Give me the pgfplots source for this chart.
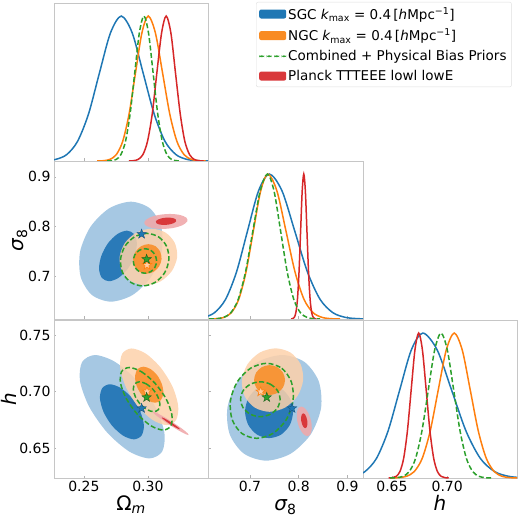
\documentclass[border=0pt]{standalone}
\usepackage{fontspec}
\setmainfont{DejaVu Sans}
\usepackage{pgfplots}
\pgfplotsset{compat=1.18}
\definecolor{cblue}{HTML}{1F77B4}
\definecolor{cblueL}{HTML}{A6C8E3}
\definecolor{cblueD}{HTML}{2A7AB8}
\definecolor{corange}{HTML}{FF7F0E}
\definecolor{corangeL}{HTML}{FDD1AA}
\definecolor{corangeD}{HTML}{F98B22}
\definecolor{cgreen}{HTML}{2CA02C}
\definecolor{cred}{HTML}{D62728}
\definecolor{credL}{HTML}{EFA9AB}
\definecolor{credD}{HTML}{D9383B}
\pgfdeclareplotmark{fstar}{%
  \pgfpathmoveto{\pgfpoint{0pt}{\pgfplotmarksize}}%
  \pgfpathlineto{\pgfpoint{-0.235\pgfplotmarksize}{0.324\pgfplotmarksize}}%
  \pgfpathlineto{\pgfpoint{-0.951\pgfplotmarksize}{0.309\pgfplotmarksize}}%
  \pgfpathlineto{\pgfpoint{-0.380\pgfplotmarksize}{-0.124\pgfplotmarksize}}%
  \pgfpathlineto{\pgfpoint{-0.588\pgfplotmarksize}{-0.809\pgfplotmarksize}}%
  \pgfpathlineto{\pgfpoint{0pt}{-0.4\pgfplotmarksize}}%
  \pgfpathlineto{\pgfpoint{0.588\pgfplotmarksize}{-0.809\pgfplotmarksize}}%
  \pgfpathlineto{\pgfpoint{0.380\pgfplotmarksize}{-0.124\pgfplotmarksize}}%
  \pgfpathlineto{\pgfpoint{0.951\pgfplotmarksize}{0.309\pgfplotmarksize}}%
  \pgfpathlineto{\pgfpoint{0.235\pgfplotmarksize}{0.324\pgfplotmarksize}}%
  \pgfpathclose
  \pgfusepathqfillstroke}
\pgfplotsset{
 panel/.style={scale only axis, height=158pt, anchor=south west,
   axis line style={gray!45}, tick style={gray!60, line width=0.4pt},
   major tick length=2.5pt, tick align=inside, tick pos=left,
   ticklabel style={font=\fontsize{14}{16}\selectfont},
   label style={font=\fontsize{20}{24}\selectfont},
   xticklabels={}, yticklabels={},
   xlabel style={at={(axis description cs:0.5,-0.208)}, anchor=base},
   },
 oned/.style={panel, ymin=0, ymax=1.09, ytick=\empty},
 colO/.style={width=154pt, xmin=0.2266, xmax=0.3470, xtick={0.25,0.30}},
 colS/.style={width=155pt, xmin=0.614, xmax=0.932, xtick={0.7,0.8,0.9}},
 colH/.style={width=154pt, xmin=0.6238, xmax=0.7632, xtick={0.65,0.70}},
 rowS/.style={ymin=0.614, ymax=0.932, ytick={0.7,0.8,0.9}},
 rowH/.style={ymin=0.6238, ymax=0.7632, ytick={0.65,0.70,0.75}},
 lb/.style={cblue, line width=1.5pt, smooth, forget plot},
 lo/.style={corange, line width=1.5pt, smooth, forget plot},
 lg/.style={cgreen, line width=1.5pt, smooth, dash pattern=on 5pt off 2.5pt, forget plot},
 lr/.style={cred, line width=1.5pt, smooth, forget plot},
 fbo/.style={fill=cblueL, draw=none, smooth cycle, forget plot},
 fbi/.style={fill=cblueD, draw=none, smooth cycle, forget plot},
 foo/.style={fill=corangeL, fill opacity=0.85, draw=none, smooth cycle, forget plot},
 foi/.style={fill=corangeD, fill opacity=0.85, draw=none, smooth cycle, forget plot},
 fro/.style={fill=credL, fill opacity=0.9, draw=none, smooth cycle, forget plot},
 fri/.style={fill=credD, draw=none, smooth cycle, forget plot},
 cg/.style={draw=cgreen, fill=none, line width=1.5pt, dash pattern=on 5pt off 2.5pt, smooth cycle, forget plot},
 sb/.style={only marks, mark=fstar, mark size=5pt, mark options={fill=cblue, draw=cblue!70!black, line width=0.4pt}, forget plot},
 so/.style={only marks, mark=fstar, mark size=5pt, mark options={fill=corangeL, draw=corange, line width=0.6pt}, forget plot},
 sg/.style={only marks, mark=fstar, mark size=5pt, mark options={fill=cgreen, draw=cgreen!60!black, line width=0.4pt}, forget plot},
}
\begin{document}
\begin{tikzpicture}[x=1pt,y=1pt]
\useasboundingbox (0,0) rectangle (520,520);
% ---------------- R1C1 : Omega_m 1D
\begin{axis}[oned, colO, at={(54pt,359pt)},
  legend style={at={(1.3117,1.0063)}, anchor=north west, draw=gray!25, rounded corners=2pt,
    fill=white, font=\fontsize{13.5}{16}\selectfont, inner sep=3pt, row sep=4pt,
    cells={anchor=west}}, legend cell align=left]
\addlegendimage{legend image code/.code={\fill[fill=cblue, draw=none] (0pt,-4.5pt) rectangle (27pt,4.5pt);}}
\addlegendimage{legend image code/.code={\fill[fill=corangeD, draw=none] (0pt,-4.5pt) rectangle (27pt,4.5pt);}}
\addlegendimage{legend image code/.code={\fill[fill=cgreen, draw=none] (0pt,-0.9pt) rectangle (5pt,0.9pt) (7.5pt,-0.9pt) rectangle (12.5pt,0.9pt) (15pt,-0.9pt) rectangle (20pt,0.9pt) (22.5pt,-0.9pt) rectangle (27pt,0.9pt);}}
\addlegendimage{legend image code/.code={\fill[fill=credD, draw=none] (0pt,-4.5pt) rectangle (27pt,4.5pt);}}
\legend{SGC {\itshape k}\textsubscript{max} = 0.4\,[{\itshape h}Mpc\textsuperscript{−1}],
NGC {\itshape k}\textsubscript{max} = 0.4\,[{\itshape h}Mpc\textsuperscript{−1}],
Combined + Physical Bias Priors,
Planck TTTEEE lowl lowE}
\addplot[lb] coordinates {(0.2108,0.0003)(0.2194,0.0022)(0.2279,0.0111)(0.2365,0.0439)(0.2450,0.1353)(0.2536,0.3247)(0.2621,0.6065)(0.2707,0.8825)(0.2792,1)(0.2878,0.8825)(0.2963,0.6065)(0.3049,0.3247)(0.3134,0.1353)(0.3220,0.0439)(0.3305,0.0111)(0.3391,0.0022)(0.3476,0.0003)};
\addplot[lo] coordinates {(0.2603,0.0003)(0.2653,0.0022)(0.2703,0.0111)(0.2753,0.0439)(0.2803,0.1353)(0.2853,0.3247)(0.2903,0.6065)(0.2953,0.8825)(0.3003,1)(0.3059,0.8825)(0.3115,0.6065)(0.3171,0.3247)(0.3227,0.1353)(0.3283,0.0439)(0.3339,0.0111)(0.3395,0.0022)(0.3451,0.0003)};
\addplot[lr] coordinates {(0.2851,0.0003)(0.2888,0.0022)(0.2924,0.0111)(0.2961,0.0439)(0.2997,0.1353)(0.3034,0.3247)(0.3070,0.6065)(0.3107,0.8825)(0.3143,1)(0.3180,0.8825)(0.3216,0.6065)(0.3253,0.3247)(0.3289,0.1353)(0.3326,0.0439)(0.3362,0.0111)(0.3399,0.0022)(0.3435,0.0003)};
\addplot[lg] coordinates {(0.2681,0.0003)(0.2717,0.0022)(0.2753,0.0111)(0.2789,0.0439)(0.2825,0.1353)(0.2861,0.3247)(0.2897,0.6065)(0.2933,0.8825)(0.2969,1)(0.3005,0.8825)(0.3041,0.6065)(0.3077,0.3247)(0.3113,0.1353)(0.3149,0.0439)(0.3185,0.0111)(0.3221,0.0022)(0.3257,0.0003)};
\end{axis}
% ---------------- R2C1 : sigma8 vs Omega_m
\begin{axis}[panel, colO, rowS, at={(54pt,201pt)}, yticklabels={0.7,0.8,0.9},
  ylabel={{\itshape σ}\textsubscript{8}},
  ylabel style={at={(axis description cs:-0.22,0.5)}, anchor=center, rotate=0}]
\addplot[fbo] coordinates {(0.2867,0.8501)(0.3016,0.8366)(0.3104,0.7998)(0.3108,0.7495)(0.3026,0.6992)(0.2881,0.6624)(0.2711,0.6489)(0.2562,0.6624)(0.2474,0.6992)(0.2470,0.7495)(0.2552,0.7998)(0.2697,0.8366)};
\addplot[fbi] coordinates {(0.2836,0.7918)(0.2892,0.7850)(0.2914,0.7664)(0.2896,0.7409)(0.2844,0.7155)(0.2770,0.6968)(0.2696,0.6900)(0.2640,0.6968)(0.2618,0.7155)(0.2636,0.7409)(0.2688,0.7664)(0.2762,0.7850)};
\addplot[foo] coordinates {(0.3027,0.7957)(0.3137,0.7881)(0.3210,0.7673)(0.3229,0.7388)(0.3187,0.7104)(0.3097,0.6895)(0.2981,0.6819)(0.2872,0.6895)(0.2798,0.7104)(0.2779,0.7388)(0.2821,0.7673)(0.2912,0.7881)};
\addplot[foi] coordinates {(0.3004,0.7646)(0.3059,0.7606)(0.3096,0.7497)(0.3107,0.7348)(0.3088,0.7199)(0.3045,0.7090)(0.2988,0.7050)(0.2934,0.7090)(0.2896,0.7199)(0.2885,0.7348)(0.2904,0.7497)(0.2948,0.7606)};
\addplot[fro] coordinates {(0.3172,0.8254)(0.3251,0.8234)(0.3301,0.8179)(0.3308,0.8103)(0.3270,0.8028)(0.3198,0.7972)(0.3110,0.7952)(0.3031,0.7972)(0.2981,0.8028)(0.2974,0.8103)(0.3012,0.8179)(0.3084,0.8234)};
\addplot[fri] coordinates {(0.3158,0.8181)(0.3195,0.8171)(0.3218,0.8144)(0.3221,0.8107)(0.3202,0.8070)(0.3168,0.8043)(0.3126,0.8033)(0.3089,0.8043)(0.3066,0.8070)(0.3063,0.8107)(0.3082,0.8144)(0.3116,0.8171)};
\addplot[cg] coordinates {(0.2991,0.7863)(0.3084,0.7792)(0.3147,0.7599)(0.3164,0.7334)(0.3131,0.7070)(0.3056,0.6876)(0.2959,0.6805)(0.2867,0.6876)(0.2803,0.7070)(0.2786,0.7334)(0.2819,0.7599)(0.2895,0.7792)};
\addplot[cg] coordinates {(0.2977,0.7555)(0.3023,0.7522)(0.3056,0.7432)(0.3068,0.7308)(0.3056,0.7185)(0.3023,0.7094)(0.2977,0.7061)(0.2932,0.7094)(0.2898,0.7185)(0.2886,0.7308)(0.2898,0.7432)(0.2932,0.7522)};
\addplot[sb] coordinates {(0.2951,0.785)};
\addplot[so] coordinates {(0.2993,0.7225)};
\addplot[sg] coordinates {(0.2990,0.7343)};
\end{axis}
% ---------------- R2C2 : sigma8 1D
\begin{axis}[oned, colS, at={(208pt,201pt)}]
\addplot[lb] coordinates {(0.560,0.0003)(0.5825,0.0022)(0.605,0.0111)(0.6275,0.0439)(0.650,0.1353)(0.6725,0.3247)(0.695,0.6065)(0.7175,0.8825)(0.740,1)(0.766,0.8825)(0.792,0.6065)(0.818,0.3247)(0.844,0.1353)(0.870,0.0439)(0.896,0.0111)(0.922,0.0022)(0.948,0.0003)};
\addplot[lo] coordinates {(0.617,0.0003)(0.632,0.0022)(0.647,0.0111)(0.662,0.0439)(0.677,0.1353)(0.692,0.3247)(0.707,0.6065)(0.722,0.8825)(0.737,1)(0.7555,0.8825)(0.774,0.6065)(0.7925,0.3247)(0.811,0.1353)(0.8295,0.0439)(0.848,0.0111)(0.8665,0.0022)(0.885,0.0003)};
\addplot[lr] coordinates {(0.7845,0.0003)(0.78775,0.0022)(0.791,0.0111)(0.79425,0.0439)(0.7975,0.1353)(0.80075,0.3247)(0.804,0.6065)(0.80725,0.8825)(0.8105,1)(0.81375,0.8825)(0.817,0.6065)(0.82025,0.3247)(0.8235,0.1353)(0.82675,0.0439)(0.830,0.0111)(0.83325,0.0022)(0.8365,0.0003)};
\addplot[lg] coordinates {(0.616,0.0003)(0.631,0.0022)(0.646,0.0111)(0.661,0.0439)(0.676,0.1353)(0.691,0.3247)(0.706,0.6065)(0.721,0.8825)(0.736,1)(0.7495,0.8825)(0.763,0.6065)(0.7765,0.3247)(0.790,0.1353)(0.8035,0.0439)(0.817,0.0111)(0.8305,0.0022)(0.844,0.0003)};
\end{axis}
% ---------------- R3C1 : h vs Omega_m
\begin{axis}[panel, colO, rowH, at={(54pt,42pt)}, xticklabels={0.25,0.30}, yticklabels={0.65,0.70,0.75},
  xlabel={Ω\textsubscript{\itshape m}}, ylabel={\itshape h},
  ylabel style={at={(axis description cs:-0.29,0.5)}, anchor=center, rotate=0}]
\addplot[fbo] coordinates {(0.2587,0.7323)(0.2744,0.7262)(0.2916,0.7095)(0.3057,0.6867)(0.3129,0.6639)(0.3112,0.6472)(0.3012,0.6411)(0.2854,0.6472)(0.2682,0.6639)(0.2541,0.6867)(0.2469,0.7095)(0.2486,0.7262)};
\addplot[fbi] coordinates {(0.2703,0.7065)(0.2788,0.7032)(0.2875,0.6944)(0.2941,0.6822)(0.2969,0.6701)(0.2950,0.6612)(0.2891,0.6579)(0.2806,0.6612)(0.2719,0.6701)(0.2653,0.6822)(0.2625,0.6944)(0.2644,0.7032)};
\addplot[foo] coordinates {(0.2873,0.7381)(0.2983,0.7336)(0.3100,0.7212)(0.3193,0.7043)(0.3237,0.6874)(0.3221,0.6750)(0.3147,0.6705)(0.3037,0.6750)(0.2920,0.6874)(0.2827,0.7043)(0.2783,0.7212)(0.2800,0.7336)};
\addplot[foi] coordinates {(0.2964,0.7220)(0.3021,0.7199)(0.3075,0.7141)(0.3111,0.7061)(0.3121,0.6982)(0.3100,0.6923)(0.3056,0.6902)(0.2999,0.6923)(0.2945,0.6982)(0.2909,0.7061)(0.2900,0.7141)(0.2920,0.7199)};
\addplot[fro] coordinates {(0.3042,0.6823)(0.3074,0.6809)(0.3135,0.6772)(0.3207,0.6720)(0.3272,0.6669)(0.3312,0.6631)(0.3316,0.6617)(0.3284,0.6631)(0.3223,0.6669)(0.3151,0.6720)(0.3086,0.6772)(0.3046,0.6809)};
\addplot[fri] coordinates {(0.3109,0.6773)(0.3125,0.6766)(0.3156,0.6747)(0.3193,0.6720)(0.3226,0.6694)(0.3247,0.6674)(0.3249,0.6667)(0.3233,0.6674)(0.3202,0.6694)(0.3165,0.6720)(0.3132,0.6747)(0.3111,0.6766)};
\addplot[cg] coordinates {(0.2854,0.7213)(0.2949,0.7176)(0.3055,0.7075)(0.3142,0.6937)(0.3187,0.6799)(0.3180,0.6698)(0.3120,0.6661)(0.3025,0.6698)(0.2919,0.6799)(0.2832,0.6937)(0.2786,0.7075)(0.2794,0.7176)};
\addplot[cg] coordinates {(0.2935,0.7087)(0.2986,0.7069)(0.3039,0.7021)(0.3078,0.6955)(0.3094,0.6889)(0.3082,0.6841)(0.3045,0.6823)(0.2994,0.6841)(0.2941,0.6889)(0.2902,0.6955)(0.2886,0.7021)(0.2898,0.7069)};
\addplot[sb] coordinates {(0.2951,0.6853)};
\addplot[so] coordinates {(0.2993,0.7000)};
\addplot[sg] coordinates {(0.2990,0.6950)};
\end{axis}
% ---------------- R3C2 : h vs sigma8
\begin{axis}[panel, colS, rowH, at={(208pt,42pt)}, xticklabels={0.7,0.8,0.9},
  xlabel={{\itshape σ}\textsubscript{8}}]
\addplot[fbo] coordinates {(0.7663,0.7323)(0.8122,0.7261)(0.8413,0.7090)(0.8460,0.6857)(0.8249,0.6624)(0.7838,0.6453)(0.7335,0.6391)(0.6877,0.6453)(0.6585,0.6624)(0.6538,0.6857)(0.6749,0.7090)(0.7161,0.7261)};
\addplot[fbi] coordinates {(0.7393,0.7058)(0.7640,0.7027)(0.7820,0.6941)(0.7886,0.6824)(0.7820,0.6707)(0.7640,0.6621)(0.7393,0.6590)(0.7147,0.6621)(0.6966,0.6707)(0.6900,0.6824)(0.6966,0.6941)(0.7147,0.7027)};
\addplot[foo] coordinates {(0.7526,0.7382)(0.7832,0.7345)(0.8039,0.7242)(0.8092,0.7102)(0.7977,0.6962)(0.7724,0.6860)(0.7402,0.6822)(0.7096,0.6860)(0.6889,0.6962)(0.6836,0.7102)(0.6951,0.7242)(0.7204,0.7345)};
\addplot[foi] coordinates {(0.7403,0.7234)(0.7562,0.7216)(0.7678,0.7168)(0.7721,0.7102)(0.7678,0.7036)(0.7562,0.6988)(0.7403,0.6970)(0.7244,0.6988)(0.7128,0.7036)(0.7085,0.7102)(0.7128,0.7168)(0.7244,0.7216)};
\addplot[fro] coordinates {(0.8053,0.6868)(0.8132,0.6851)(0.8207,0.6803)(0.8257,0.6738)(0.8269,0.6673)(0.8240,0.6625)(0.8177,0.6608)(0.8098,0.6625)(0.8023,0.6673)(0.7973,0.6738)(0.7961,0.6803)(0.7990,0.6851)};
\addplot[fri] coordinates {(0.8094,0.6809)(0.8128,0.6800)(0.8158,0.6776)(0.8177,0.6743)(0.8179,0.6710)(0.8164,0.6686)(0.8136,0.6677)(0.8102,0.6686)(0.8072,0.6710)(0.8053,0.6743)(0.8051,0.6776)(0.8066,0.6800)};
\addplot[cg] coordinates {(0.7346,0.7250)(0.7654,0.7206)(0.7851,0.7085)(0.7886,0.6919)(0.7748,0.6754)(0.7475,0.6632)(0.7140,0.6588)(0.6832,0.6632)(0.6635,0.6754)(0.6600,0.6919)(0.6738,0.7085)(0.7011,0.7206)};
\addplot[cg] coordinates {(0.7214,0.7087)(0.7417,0.7066)(0.7565,0.7010)(0.7619,0.6933)(0.7565,0.6856)(0.7417,0.6800)(0.7214,0.6779)(0.7012,0.6800)(0.6863,0.6856)(0.6809,0.6933)(0.6863,0.7010)(0.7012,0.7066)};
\addplot[sb] coordinates {(0.7865,0.6853)};
\addplot[so] coordinates {(0.7222,0.7000)};
\addplot[sg] coordinates {(0.7345,0.6950)};
\end{axis}
% ---------------- R3C3 : h 1D
\begin{axis}[oned, colH, at={(363pt,42pt)}, xticklabels={0.65,0.70},
  xlabel={\itshape h}]
\addplot[lb] coordinates {(0.594,0.0003)(0.6045,0.0022)(0.615,0.0111)(0.6255,0.0439)(0.636,0.1353)(0.6465,0.3247)(0.657,0.6065)(0.6675,0.8825)(0.678,1)(0.691,0.8825)(0.704,0.6065)(0.717,0.3247)(0.730,0.1353)(0.743,0.0439)(0.756,0.0111)(0.769,0.0022)(0.782,0.0003)};
\addplot[lo] coordinates {(0.6484,0.0003)(0.65565,0.0022)(0.6629,0.0111)(0.67015,0.0439)(0.6774,0.1353)(0.68465,0.3247)(0.6919,0.6065)(0.69915,0.8825)(0.7064,1)(0.71365,0.8825)(0.7209,0.6065)(0.72815,0.3247)(0.7354,0.1353)(0.74265,0.0439)(0.7499,0.0111)(0.75715,0.0022)(0.7644,0.0003)};
\addplot[lr] coordinates {(0.647,0.0003)(0.6504,0.0022)(0.6538,0.0111)(0.6572,0.0439)(0.6606,0.1353)(0.664,0.3247)(0.6674,0.6065)(0.6708,0.8825)(0.6742,1)(0.6776,0.8825)(0.681,0.6065)(0.6844,0.3247)(0.6878,0.1353)(0.6912,0.0439)(0.6946,0.0111)(0.698,0.0022)(0.7014,0.0003)};
\addplot[lg] coordinates {(0.6484,0.0003)(0.65415,0.0022)(0.6599,0.0111)(0.66565,0.0439)(0.6714,0.1353)(0.67715,0.3247)(0.6829,0.6065)(0.68865,0.8825)(0.6944,1)(0.70015,0.8825)(0.7059,0.6065)(0.71165,0.3247)(0.7174,0.1353)(0.72315,0.0439)(0.7289,0.0111)(0.73465,0.0022)(0.7404,0.0003)};
\end{axis}
\end{tikzpicture}
\end{document}
